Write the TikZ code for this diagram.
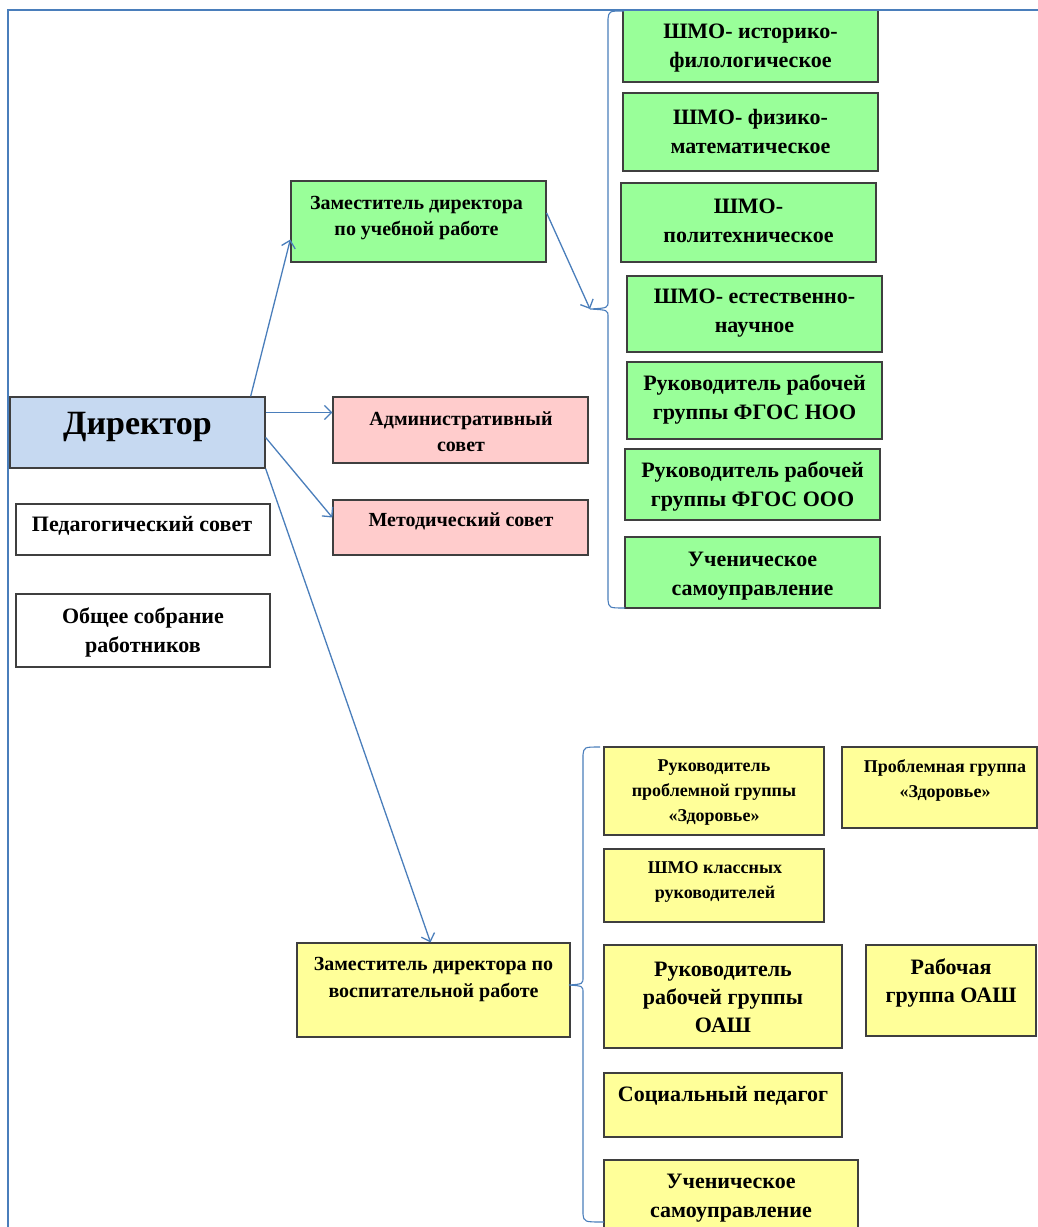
\documentclass[tikz,border=0pt]{standalone}
\usepackage{fontspec}
\setmainfont{Liberation Serif}
\usetikzlibrary{arrows.meta,shadows}
\definecolor{lineblue}{HTML}{4A7EBB}
\definecolor{dirblue}{HTML}{C6D9F1}
\definecolor{pinkf}{HTML}{FFCCCC}
\definecolor{greenf}{HTML}{99FF99}
\definecolor{yellowf}{HTML}{FFFF99}
\definecolor{bord}{HTML}{3F3F3F}
\tikzset{
  box/.style={rectangle, draw=bord, line width=1.3pt, inner sep=0pt,
    drop shadow={shadow xshift=1.2pt, shadow yshift=-1.2pt, opacity=0.25}},
  txt/.style={inner sep=0pt, align=center},
  fA/.style={font=\fontsize{34}{40}\selectfont\bfseries},
  fB/.style={font=\fontsize{20}{26}\selectfont\bfseries},
  fW/.style={font=\fontsize{22}{29}\selectfont\bfseries},
  fC/.style={font=\fontsize{22}{29}\selectfont\bfseries},
  fD/.style={font=\fontsize{18}{25}\selectfont\bfseries},
  fE/.style={font=\fontsize{22}{28}\selectfont\bfseries},
  fF/.style={font=\fontsize{20}{27}\selectfont\bfseries},
  arr/.style={draw=lineblue, line width=1.3pt, -{Straight Barb[length=7pt,width=14pt]}},
  brc/.style={draw=lineblue, line width=1.1pt},
  frame/.style={draw=lineblue, line width=1.6pt}
}
\begin{document}
\begin{tikzpicture}[x=1pt,y=-1pt]
\useasboundingbox (0,0) rectangle (1038,1227);
\clip (0,0) rectangle (1038,1227);
\fill[white] (0,0) rectangle (1038,1227);

% boxes
\node[box, fill=dirblue, minimum width=255pt, minimum height=71pt] (dir) at (137.5,432.5) {};
\node[box, fill=white, minimum width=254pt, minimum height=51pt] (ped) at (143,529.5) {};
\node[box, fill=white, minimum width=254pt, minimum height=73pt] (obs) at (143,630.5) {};
\node[box, fill=greenf, minimum width=255pt, minimum height=81pt] (zu) at (418.5,221.5) {};
\node[box, fill=pinkf, minimum width=255pt, minimum height=66pt] (adm) at (460.5,430) {};
\node[box, fill=pinkf, minimum width=255pt, minimum height=55pt] (met) at (460.5,527.5) {};

\node[box, fill=greenf, minimum width=255pt, minimum height=72pt] (g1) at (750.5,46) {};
\node[box, fill=greenf, minimum width=255pt, minimum height=78pt] (g2) at (750.5,132) {};
\node[box, fill=greenf, minimum width=255pt, minimum height=79pt] (g3) at (748.5,222.5) {};
\node[box, fill=greenf, minimum width=255pt, minimum height=76pt] (g4) at (754.5,314) {};
\node[box, fill=greenf, minimum width=255pt, minimum height=77pt] (g5) at (754.5,400.5) {};
\node[box, fill=greenf, minimum width=255pt, minimum height=71pt] (g6) at (752.5,484.5) {};
\node[box, fill=greenf, minimum width=255pt, minimum height=71pt] (g7) at (752.5,572.5) {};

\node[box, fill=yellowf, minimum width=273pt, minimum height=94pt] (zv) at (433.5,990) {};
\node[box, fill=yellowf, minimum width=220pt, minimum height=88pt] (y1) at (714,791) {};
\node[box, fill=yellowf, minimum width=195pt, minimum height=81pt] (y2) at (939.5,787.5) {};
\node[box, fill=yellowf, minimum width=220pt, minimum height=73pt] (y3) at (714,885.5) {};
\node[box, fill=yellowf, minimum width=238pt, minimum height=103pt] (y4) at (723,996.5) {};
\node[box, fill=yellowf, minimum width=170pt, minimum height=91pt] (y5) at (951,990.5) {};
\node[box, fill=yellowf, minimum width=238pt, minimum height=64pt] (y6) at (723,1105) {};
\node[box, fill=yellowf, minimum width=254pt, minimum height=80pt] (y7) at (731,1200) {};

% texts
\node[txt, fA] (dirT) at (137.5,427) {Директор};
\node[txt, fW] (pedT) at (142,526) {Педагогический совет};
\node[txt, fW] (obsT) at (143,632) {Общее собрание\\работников};
\node[txt, fB] (zuT) at (416.5,218) {Заместитель директора\\по учебной работе};
\node[txt, fB] (admT) at (461,432) {Административный\\совет};
\node[txt, fB] (metT) at (461,521) {Методический совет};

\node[txt, fC] (g1T) at (750.5,48.5) {ШМО- историко-\\филологическое};
\node[txt, fC] (g2T) at (750.5,131) {ШМО- физико-\\математическое};
\node[txt, fC] (g3T) at (748.5,221) {ШМО-\\политехническое};
\node[txt, fC] (g4T) at (754.5,313) {ШМО- естественно-\\научное};
\node[txt, fC] (g5T) at (754.5,399.5) {Руководитель рабочей\\группы ФГОС НОО};
\node[txt, fC] (g6T) at (752.5,486.5) {Руководитель рабочей\\группы ФГОС ООО};
\node[txt, fC] (g7T) at (752.5,576) {Ученическое\\самоуправление};

\node[txt, fF] (zvT) at (433.5,979) {Заместитель директора по\\воспитательной работе};
\node[txt, fD] (y1T) at (714,792.5) {Руководитель\\проблемной группы\\«Здоровье»};
\node[txt, fD] (y2T) at (945,780) {Проблемная группа\\«Здоровье»};
\node[txt, fD] (y3T) at (715,882) {ШМО классных\\руководителей};
\node[txt, fE] (y4T) at (723,997) {Руководитель\\рабочей группы\\ОАШ};
\node[txt, fE] (y5T) at (951,983) {Рабочая\\группа ОАШ};
\node[txt, fW] (y6T) at (723,1096) {Социальный педагог};
\node[txt, fC] (y7T) at (731,1198) {Ученическое\\самоуправление};

% frame
\draw[frame] (8,1230) -- (8,10) -- (1040,10);

% braces
\coordinate (gbt) at (590,309);
\coordinate (ybt) at (569,985);
\draw[brc] (624,11) .. controls (609,11) .. (608,19) -- (608,301)
  .. controls (608,308) .. (gbt) .. controls (608,310) .. (608,317)
  -- (608,600) .. controls (609,608) .. (625,608);
\draw[brc] (600,747) .. controls (584,747) .. (583,755) -- (583,977)
  .. controls (583,984) .. (ybt) .. controls (583,986) .. (583,993)
  -- (583,1214) .. controls (584,1222) .. (604,1222);

% arrows
\draw[arr] ([xshift=-15pt]dir.north east) -- ([yshift=-18pt]zu.west);
\draw[arr] ([yshift=20pt]dir.east) -- ([yshift=20pt]dir.east -| adm.west);
\draw[arr] ([yshift=-5pt]dir.east) -- ([yshift=10pt]met.west);
\draw[arr] (dir.south east) -- ([xshift=-3pt]zv.north);
\draw[arr] ([yshift=8.5pt]zu.east) -- (gbt);
\end{tikzpicture}
\end{document}
